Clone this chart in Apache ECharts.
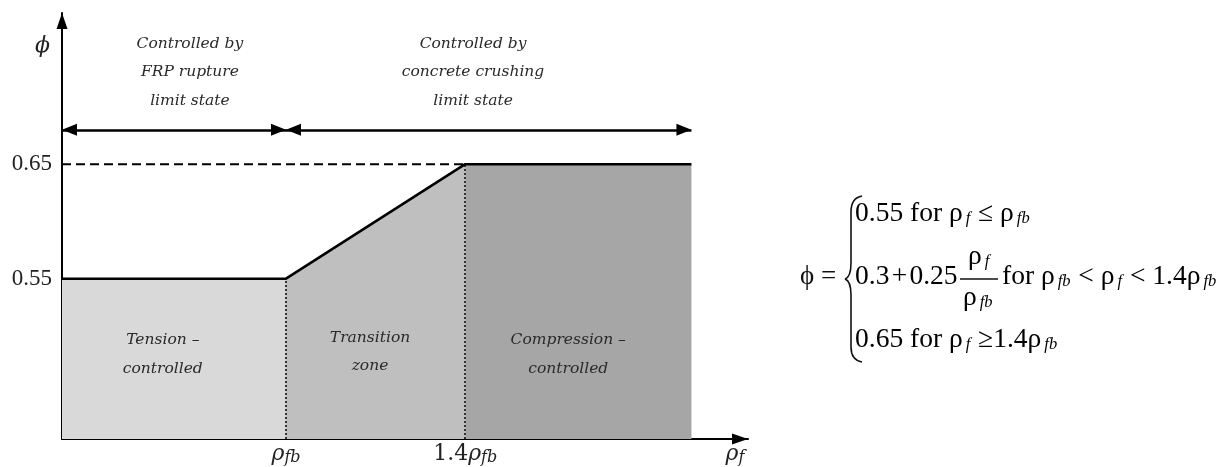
<!DOCTYPE html>
<html>
<head>
<meta charset="utf-8">
<script src="https://cdn.jsdelivr.net/npm/echarts@6/dist/echarts.min.js"></script>
<style>html,body{margin:0;padding:0;background:#fff;}#c{width:1228px;height:467px;}</style>
</head>
<body>
<div id="c"></div>
<script>
// ---- data ----
const breakX = [0, 1, 1.8, 2.81];            // 0, rho_fb, 1.4 rho_fb, end of plotted range (schematic)
const phiAtBreak = [0.55, 0.55, 0.65, 0.65]; // phi at those points
const yTicks = [0.55, 0.65];
const xTicks = [1, 1.8];
const xTickLabels = ['{r|ρ}{s|fb}', '{n|1.4}{r|ρ}{s|fb}'];
const regionNames = ['Tension –\ncontrolled', 'Transition\nzone', 'Compression –\ncontrolled'];
const limitStates = ['Controlled by\nFRP rupture\nlimit state', 'Controlled by\nconcrete crushing\nlimit state'];

const regionColors = ['#d9d9d9', '#bfbfbf', '#a6a6a6'];
const YMIN = 0.41, YMAX = 0.782, XMAX = 3.0625;
const arrowY = 0.68;

const chart = echarts.init(document.getElementById('c'), null, {renderer: 'canvas'});

const italicSerif = {fontFamily: 'DejaVu Serif', fontStyle: 'italic', fontSize: 15.5, color: '#2a2a2a', lineHeight: 28.5};
const axisRich = {
  r: {fontFamily: 'DejaVu Serif', fontStyle: 'italic', fontSize: 22, color: '#222'},
  s: {fontFamily: 'DejaVu Serif', fontStyle: 'italic', fontSize: 16, color: '#222', padding: [7, 0, 0, 0]},
  n: {fontFamily: 'DejaVu Serif', fontSize: 22, color: '#222'}
};

function regionSeries(i) {
  return {
    type: 'line', symbol: 'none', silent: true, z: 1,
    data: [[breakX[i], phiAtBreak[i]], [breakX[i + 1], phiAtBreak[i + 1]]],
    lineStyle: {width: 0},
    areaStyle: {color: regionColors[i], opacity: 1, origin: 'start'}
  };
}

const sub = {fontFamily: 'Liberation Serif', fontStyle: 'italic', fontSize: 16.5, color: '#111', padding: [10, 1, 0, 3]};
const main = {fontFamily: 'Liberation Serif', fontSize: 27.5, color: '#111'};
const fRich = {m: main, s: sub};

const braceStyle = {fill: 'none', stroke: '#111', lineWidth: 1.6};
function bz(x1, y1, cx, cy, x2, y2) {
  return {type: 'bezierCurve', silent: true, shape: {x1: x1, y1: y1, cpx1: cx, cpy1: cy, x2: x2, y2: y2}, style: braceStyle};
}
function ln(x1, y1, x2, y2, w) {
  return {type: 'line', silent: true, shape: {x1: x1, y1: y1, x2: x2, y2: y2}, style: {stroke: '#111', lineWidth: w || 1.6}};
}

const option = {
  animation: false,
  backgroundColor: '#fff',
  grid: {left: 62, right: 480, top: 13, bottom: 28, containLabel: false},
  xAxis: {
    type: 'value', min: 0, max: XMAX,
    splitLine: {show: false}, axisTick: {show: false},
    axisLine: {onZero: false, lineStyle: {color: '#000', width: 2}, symbol: ['none', 'triangle'], symbolSize: [11, 16], symbolOffset: [0, -8]},
    axisLabel: {
      customValues: xTicks, margin: 4,
      formatter: function (v) { return xTickLabels[xTicks.indexOf(v)] || ''; },
      rich: axisRich
    },
    name: '{r|ρ}{s|f}', nameLocation: 'end', nameGap: -13,
    nameTextStyle: {align: 'center', verticalAlign: 'top', padding: [4, 0, 0, 0], rich: axisRich}
  },
  yAxis: {
    type: 'value', min: YMIN, max: YMAX,
    splitLine: {show: false}, axisTick: {show: false},
    axisLine: {lineStyle: {color: '#000', width: 2}, symbol: ['none', 'triangle'], symbolSize: [11, 16], symbolOffset: [0, -8]},
    axisLabel: {
      customValues: yTicks, margin: 10,
      formatter: function (v) { return v.toFixed(2); },
      fontFamily: 'Liberation Serif', fontSize: 23, color: '#222'
    },
    name: 'ϕ', nameLocation: 'end', nameGap: -33,
    nameTextStyle: {align: 'right', verticalAlign: 'middle', padding: [0, 12, 0, 0], fontFamily: 'DejaVu Serif', fontStyle: 'italic', fontSize: 22, color: '#222'}
  },
  series: [
    regionSeries(0), regionSeries(1), regionSeries(2),
    {
      type: 'line', symbol: 'none', silent: true, z: 3,
      data: [[breakX[0], phiAtBreak[2]], [breakX[2], phiAtBreak[2]]],
      lineStyle: {color: '#000', width: 2, type: [9, 5]}
    },
    {
      type: 'line', symbol: 'none', silent: true, z: 5,
      data: breakX.map((x, i) => [x, phiAtBreak[i]]),
      lineStyle: {color: '#000', width: 2.5},
      markLine: {
        silent: true, symbol: 'none', label: {show: false},
        lineStyle: {color: '#333', width: 2, type: [2, 2]},
        data: [
          [{coord: [breakX[1], YMIN]}, {coord: [breakX[1], phiAtBreak[1]]}],
          [{coord: [breakX[2], YMIN]}, {coord: [breakX[2], phiAtBreak[2]]}]
        ]
      },
      markPoint: {
        silent: true, symbol: 'circle', symbolSize: 1,
        itemStyle: {color: 'rgba(0,0,0,0)'},
        label: {show: true, position: 'inside', ...italicSerif},
        data: [
          {coord: [0.45, 0.484], label: {formatter: regionNames[0]}},
          {coord: [1.375, 0.486], label: {formatter: regionNames[1]}},
          {coord: [2.26, 0.484], label: {formatter: regionNames[2]}},
          {coord: [0.571, 0.7305], label: {formatter: limitStates[0]}},
          {coord: [1.835, 0.7305], label: {formatter: limitStates[1]}}
        ]
      }
    },
    {
      type: 'line', symbol: 'none', silent: true, z: 6, data: [],
      markLine: {
        silent: true, symbol: ['triangle', 'triangle'], symbolSize: [12, 15],
        symbolOffset: [[0, 7.5], [0, 7.5]], label: {show: false},
        lineStyle: {color: '#000', width: 2.5, type: 'solid'},
        data: [
          [{coord: [breakX[0], arrowY]}, {coord: [breakX[1], arrowY]}],
          [{coord: [breakX[1], arrowY]}, {coord: [breakX[3], arrowY]}]
        ]
      }
    }
  ],
  graphic: [
    {type: 'text', left: 800, top: 263, style: {text: 'ϕ =', font: '27px "Liberation Serif"', fill: '#111'}},
    bz(862, 196, 851, 198, 851, 212),
    ln(851, 212, 851, 263),
    bz(851, 263, 851, 277, 845, 279),
    bz(845, 279, 851, 281, 851, 295),
    ln(851, 295, 851, 347),
    bz(851, 347, 851, 360, 862, 362),
    {type: 'text', left: 855, top: 200, style: {text: '{m|0.55 for ρ}{s|f}{m| ≤ ρ}{s|fb}', rich: fRich}},
    {type: 'text', left: 855, top: 263, style: {text: '{m|0.3\u200a+\u200a0.25}', rich: fRich}},
    {type: 'text', left: 968, top: 243, style: {text: '{m|ρ}{s|f}', rich: fRich}},
    ln(960, 279, 998, 279, 1.3),
    {type: 'text', left: 963, top: 284, style: {text: '{m|ρ}{s|fb}', rich: fRich}},
    {type: 'text', left: 1002, top: 263, style: {text: '{m|for ρ}{s|fb}{m| < ρ}{s|f}{m| < 1.4ρ}{s|fb}', rich: fRich}},
    {type: 'text', left: 855, top: 326, style: {text: '{m|0.65 for ρ}{s|f}{m| ≥1.4ρ}{s|fb}', rich: fRich}}
  ]
};
chart.setOption(option);
</script>
</body>
</html>
